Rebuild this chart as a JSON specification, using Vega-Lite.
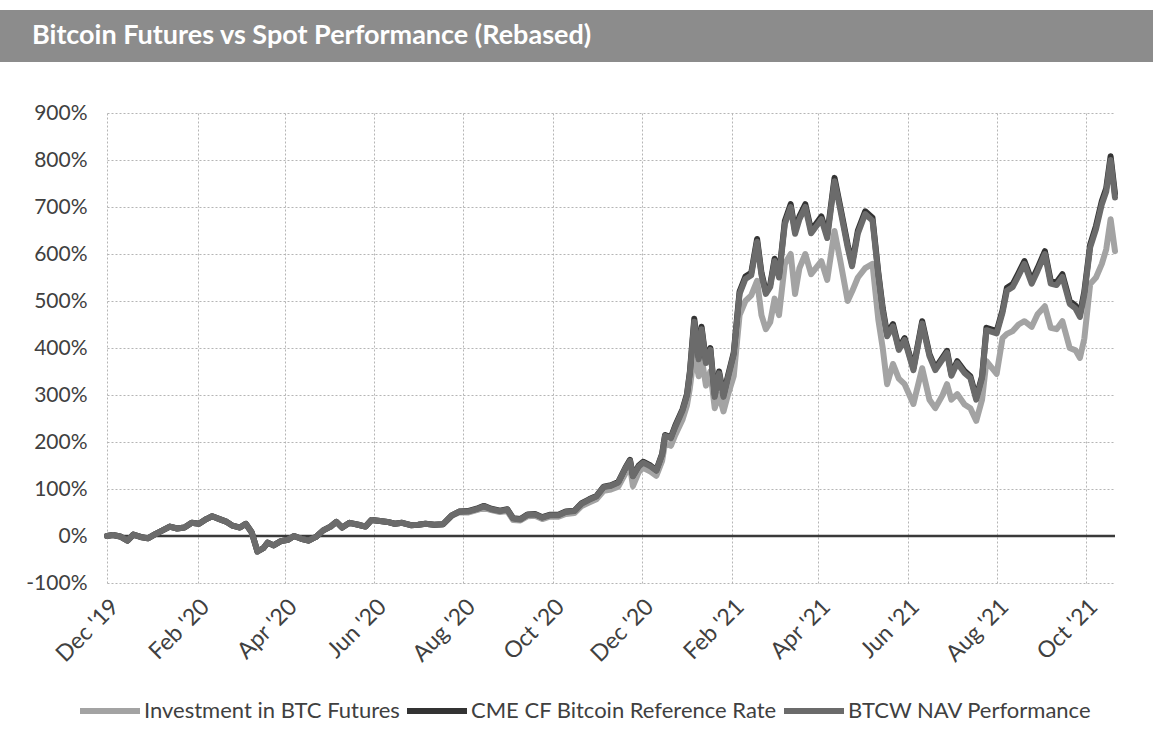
{
 "$schema": "https://vega.github.io/schema/vega-lite/v6.json",
 "padding": {"left": 0, "top": 10, "right": 0, "bottom": 0},
 "background": "white",
 "spacing": 40,
 "config": {"view": {"stroke": null}, "font": "Lato"},
 "vconcat": [
  {
   "width": 1046, "height": 52,
   "view": {"fill": "#8c8c8c", "stroke": null},
   "data": {"values": [{"t": "Bitcoin Futures vs Spot Performance (Rebased)"}]},
   "mark": {"type": "text", "align": "left", "baseline": "middle", "color": "white", "font": "Lato", "fontWeight": "bold", "fontSize": 27, "dx": -75},
   "encoding": {
    "x": {"datum": 0, "type": "quantitative", "scale": {"domain": [0, 1]}, "axis": null},
    "y": {"datum": 0.5, "type": "quantitative", "scale": {"domain": [0, 1]},
          "axis": {"title": null, "labels": false, "ticks": false, "grid": false, "domain": true, "domainColor": "#8c8c8c", "domainWidth": 216, "domainCap": "butt", "translate": 0}},
    "text": {"field": "t"}
   }
  },
  {
   "width": 1008, "height": 470,
   "layer": [
    {
     "data": {"values": [{"zero": 0}]},
     "mark": {"type": "rule", "color": "#3a3a3a", "strokeWidth": 2.5},
     "encoding": {"y": {"field": "zero", "type": "quantitative"}}
    },
    {
     "data": {"values": [
{"date":"2019-12-01","fut":0,"cme":0,"btcw":0},
{"date":"2019-12-05","fut":2,"cme":2,"btcw":2},
{"date":"2019-12-10","fut":-1,"cme":-1,"btcw":-1},
{"date":"2019-12-15","fut":-10,"cme":-10,"btcw":-10},
{"date":"2019-12-19","fut":3,"cme":3,"btcw":3},
{"date":"2019-12-24","fut":-2,"cme":-2,"btcw":-2},
{"date":"2019-12-29","fut":-5,"cme":-5,"btcw":-5},
{"date":"2020-01-03","fut":4,"cme":4,"btcw":4},
{"date":"2020-01-08","fut":12,"cme":12,"btcw":12},
{"date":"2020-01-13","fut":20,"cme":20,"btcw":20},
{"date":"2020-01-18","fut":16,"cme":16,"btcw":16},
{"date":"2020-01-23","fut":18,"cme":18,"btcw":18},
{"date":"2020-01-28","fut":28,"cme":28,"btcw":28},
{"date":"2020-02-02","fut":26,"cme":26,"btcw":26},
{"date":"2020-02-07","fut":36,"cme":36,"btcw":36},
{"date":"2020-02-11","fut":42,"cme":42,"btcw":42},
{"date":"2020-02-16","fut":36,"cme":36,"btcw":36},
{"date":"2020-02-21","fut":30,"cme":30,"btcw":30},
{"date":"2020-02-25","fut":22,"cme":22,"btcw":22},
{"date":"2020-03-01","fut":18,"cme":18,"btcw":18},
{"date":"2020-03-05","fut":26,"cme":26,"btcw":26},
{"date":"2020-03-09","fut":8,"cme":8,"btcw":8},
{"date":"2020-03-13","fut":-33,"cme":-33,"btcw":-33},
{"date":"2020-03-17","fut":-26,"cme":-26,"btcw":-26},
{"date":"2020-03-20","fut":-14,"cme":-14,"btcw":-14},
{"date":"2020-03-24","fut":-20,"cme":-20,"btcw":-20},
{"date":"2020-03-29","fut":-11,"cme":-11,"btcw":-11},
{"date":"2020-04-03","fut":-8,"cme":-8,"btcw":-8},
{"date":"2020-04-07","fut":0,"cme":0,"btcw":0},
{"date":"2020-04-12","fut":-6,"cme":-6,"btcw":-6},
{"date":"2020-04-17","fut":-10,"cme":-10,"btcw":-10},
{"date":"2020-04-22","fut":-2,"cme":-2,"btcw":-2},
{"date":"2020-04-27","fut":12,"cme":12,"btcw":12},
{"date":"2020-05-02","fut":20,"cme":20,"btcw":20},
{"date":"2020-05-06","fut":30,"cme":30,"btcw":30},
{"date":"2020-05-10","fut":18,"cme":18,"btcw":18},
{"date":"2020-05-15","fut":28,"cme":28,"btcw":28},
{"date":"2020-05-21","fut":24,"cme":24,"btcw":24},
{"date":"2020-05-26","fut":20,"cme":20,"btcw":20},
{"date":"2020-05-30","fut":34,"cme":34,"btcw":34},
{"date":"2020-06-05","fut":32,"cme":32,"btcw":32},
{"date":"2020-06-10","fut":30,"cme":30,"btcw":30},
{"date":"2020-06-15","fut":26,"cme":26,"btcw":26},
{"date":"2020-06-20","fut":28,"cme":28,"btcw":28},
{"date":"2020-06-26","fut":23,"cme":23,"btcw":23},
{"date":"2020-07-01","fut":24,"cme":24,"btcw":24},
{"date":"2020-07-06","fut":26,"cme":26,"btcw":26},
{"date":"2020-07-12","fut":24,"cme":24,"btcw":24},
{"date":"2020-07-18","fut":25,"cme":25,"btcw":25},
{"date":"2020-07-24","fut":43,"cme":44,"btcw":44},
{"date":"2020-07-29","fut":50,"cme":52,"btcw":52},
{"date":"2020-08-04","fut":50,"cme":53,"btcw":52},
{"date":"2020-08-10","fut":55,"cme":58,"btcw":57},
{"date":"2020-08-15","fut":60,"cme":64,"btcw":63},
{"date":"2020-08-20","fut":55,"cme":58,"btcw":57},
{"date":"2020-08-26","fut":51,"cme":54,"btcw":53},
{"date":"2020-08-31","fut":53,"cme":57,"btcw":56},
{"date":"2020-09-04","fut":34,"cme":38,"btcw":37},
{"date":"2020-09-09","fut":33,"cme":36,"btcw":35},
{"date":"2020-09-14","fut":42,"cme":46,"btcw":45},
{"date":"2020-09-19","fut":43,"cme":47,"btcw":46},
{"date":"2020-09-24","fut":36,"cme":40,"btcw":39},
{"date":"2020-09-29","fut":41,"cme":45,"btcw":44},
{"date":"2020-10-05","fut":41,"cme":45,"btcw":44},
{"date":"2020-10-10","fut":47,"cme":52,"btcw":51},
{"date":"2020-10-16","fut":49,"cme":54,"btcw":53},
{"date":"2020-10-21","fut":64,"cme":70,"btcw":69},
{"date":"2020-10-26","fut":71,"cme":78,"btcw":77},
{"date":"2020-10-31","fut":78,"cme":85,"btcw":84},
{"date":"2020-11-05","fut":96,"cme":105,"btcw":104},
{"date":"2020-11-10","fut":99,"cme":108,"btcw":107},
{"date":"2020-11-15","fut":105,"cme":115,"btcw":114},
{"date":"2020-11-20","fut":134,"cme":146,"btcw":145},
{"date":"2020-11-23","fut":150,"cme":162,"btcw":160},
{"date":"2020-11-25","fut":106,"cme":128,"btcw":127},
{"date":"2020-11-29","fut":136,"cme":150,"btcw":148},
{"date":"2020-12-02","fut":145,"cme":158,"btcw":156},
{"date":"2020-12-07","fut":137,"cme":150,"btcw":148},
{"date":"2020-12-11","fut":128,"cme":140,"btcw":139},
{"date":"2020-12-15","fut":160,"cme":175,"btcw":173},
{"date":"2020-12-17","fut":198,"cme":215,"btcw":213},
{"date":"2020-12-21","fut":192,"cme":210,"btcw":208},
{"date":"2020-12-24","fut":215,"cme":235,"btcw":232},
{"date":"2020-12-29","fut":248,"cme":270,"btcw":267},
{"date":"2021-01-01","fut":278,"cme":302,"btcw":299},
{"date":"2021-01-03","fut":315,"cme":350,"btcw":346},
{"date":"2021-01-06","fut":390,"cme":462,"btcw":456},
{"date":"2021-01-09","fut":340,"cme":380,"btcw":376},
{"date":"2021-01-11","fut":380,"cme":445,"btcw":440},
{"date":"2021-01-14","fut":320,"cme":372,"btcw":368},
{"date":"2021-01-17","fut":350,"cme":400,"btcw":396},
{"date":"2021-01-20","fut":272,"cme":300,"btcw":296},
{"date":"2021-01-23","fut":300,"cme":350,"btcw":346},
{"date":"2021-01-26","fut":265,"cme":300,"btcw":296},
{"date":"2021-01-29","fut":300,"cme":340,"btcw":336},
{"date":"2021-02-02","fut":340,"cme":390,"btcw":386},
{"date":"2021-02-06","fut":470,"cme":520,"btcw":515},
{"date":"2021-02-10","fut":500,"cme":552,"btcw":547},
{"date":"2021-02-14","fut":512,"cme":560,"btcw":555},
{"date":"2021-02-18","fut":543,"cme":632,"btcw":626},
{"date":"2021-02-21","fut":470,"cme":560,"btcw":555},
{"date":"2021-02-24","fut":440,"cme":520,"btcw":515},
{"date":"2021-02-27","fut":455,"cme":535,"btcw":530},
{"date":"2021-03-02","fut":505,"cme":590,"btcw":585},
{"date":"2021-03-05","fut":470,"cme":555,"btcw":550},
{"date":"2021-03-09","fut":579,"cme":670,"btcw":664},
{"date":"2021-03-13","fut":600,"cme":706,"btcw":700},
{"date":"2021-03-16","fut":515,"cme":649,"btcw":643},
{"date":"2021-03-19","fut":570,"cme":680,"btcw":674},
{"date":"2021-03-23","fut":600,"cme":706,"btcw":700},
{"date":"2021-03-27","fut":557,"cme":650,"btcw":644},
{"date":"2021-04-03","fut":585,"cme":680,"btcw":674},
{"date":"2021-04-07","fut":545,"cme":640,"btcw":634},
{"date":"2021-04-12","fut":649,"cme":762,"btcw":755},
{"date":"2021-04-16","fut":585,"cme":700,"btcw":694},
{"date":"2021-04-21","fut":500,"cme":620,"btcw":614},
{"date":"2021-04-24","fut":520,"cme":579,"btcw":574},
{"date":"2021-04-28","fut":550,"cme":650,"btcw":644},
{"date":"2021-05-03","fut":570,"cme":691,"btcw":685},
{"date":"2021-05-08","fut":579,"cme":677,"btcw":671},
{"date":"2021-05-12","fut":460,"cme":560,"btcw":555},
{"date":"2021-05-15","fut":400,"cme":485,"btcw":480},
{"date":"2021-05-18","fut":323,"cme":430,"btcw":425},
{"date":"2021-05-22","fut":366,"cme":451,"btcw":446},
{"date":"2021-05-26","fut":335,"cme":400,"btcw":396},
{"date":"2021-05-30","fut":323,"cme":421,"btcw":417},
{"date":"2021-06-05","fut":281,"cme":357,"btcw":353},
{"date":"2021-06-11","fut":357,"cme":457,"btcw":452},
{"date":"2021-06-16","fut":290,"cme":387,"btcw":383},
{"date":"2021-06-20","fut":272,"cme":357,"btcw":353},
{"date":"2021-06-25","fut":300,"cme":380,"btcw":376},
{"date":"2021-06-28","fut":323,"cme":394,"btcw":390},
{"date":"2021-07-01","fut":290,"cme":345,"btcw":341},
{"date":"2021-07-05","fut":302,"cme":372,"btcw":368},
{"date":"2021-07-10","fut":280,"cme":351,"btcw":347},
{"date":"2021-07-14","fut":272,"cme":340,"btcw":336},
{"date":"2021-07-18","fut":245,"cme":294,"btcw":290},
{"date":"2021-07-22","fut":290,"cme":340,"btcw":336},
{"date":"2021-07-25","fut":372,"cme":443,"btcw":438},
{"date":"2021-08-01","fut":345,"cme":436,"btcw":431},
{"date":"2021-08-05","fut":421,"cme":480,"btcw":475},
{"date":"2021-08-08","fut":430,"cme":528,"btcw":522},
{"date":"2021-08-12","fut":436,"cme":536,"btcw":530},
{"date":"2021-08-16","fut":450,"cme":560,"btcw":554},
{"date":"2021-08-20","fut":457,"cme":585,"btcw":579},
{"date":"2021-08-25","fut":445,"cme":543,"btcw":537},
{"date":"2021-08-29","fut":472,"cme":570,"btcw":564},
{"date":"2021-09-03","fut":489,"cme":606,"btcw":600},
{"date":"2021-09-07","fut":443,"cme":543,"btcw":537},
{"date":"2021-09-11","fut":440,"cme":540,"btcw":534},
{"date":"2021-09-15","fut":457,"cme":557,"btcw":551},
{"date":"2021-09-20","fut":400,"cme":500,"btcw":494},
{"date":"2021-09-24","fut":395,"cme":490,"btcw":484},
{"date":"2021-09-27","fut":379,"cme":472,"btcw":466},
{"date":"2021-09-30","fut":420,"cme":520,"btcw":514},
{"date":"2021-10-04","fut":536,"cme":620,"btcw":614},
{"date":"2021-10-08","fut":550,"cme":660,"btcw":653},
{"date":"2021-10-12","fut":579,"cme":713,"btcw":706},
{"date":"2021-10-15","fut":610,"cme":740,"btcw":733},
{"date":"2021-10-18","fut":674,"cme":808,"btcw":800},
{"date":"2021-10-21","fut":606,"cme":728,"btcw":720}
     ]},
     "transform": [{"fold": ["fut", "cme", "btcw"], "as": ["series", "value"]}],
     "mark": {"type": "line", "strokeWidth": 6, "strokeJoin": "round", "strokeCap": "round"},
     "encoding": {
      "x": {
       "field": "date", "type": "temporal",
       "scale": {"type": "utc", "domain": [{"year": 2019, "month": 12, "date": 1, "utc": true}, {"year": 2021, "month": 10, "date": 21, "utc": true}]},
       "axis": {
        "title": null,
        "values": [
         {"year": 2019, "month": 12, "date": 1, "utc": true},
         {"year": 2020, "month": 2, "date": 1, "utc": true},
         {"year": 2020, "month": 4, "date": 1, "utc": true},
         {"year": 2020, "month": 6, "date": 1, "utc": true},
         {"year": 2020, "month": 8, "date": 1, "utc": true},
         {"year": 2020, "month": 10, "date": 1, "utc": true},
         {"year": 2020, "month": 12, "date": 1, "utc": true},
         {"year": 2021, "month": 2, "date": 1, "utc": true},
         {"year": 2021, "month": 4, "date": 1, "utc": true},
         {"year": 2021, "month": 6, "date": 1, "utc": true},
         {"year": 2021, "month": 8, "date": 1, "utc": true},
         {"year": 2021, "month": 10, "date": 1, "utc": true}
        ],
        "format": "%b '%y",
        "labelAngle": -45,
        "labelFont": "Lato",
        "labelFontSize": 23,
        "labelColor": "#404040",
        "labelOverlap": false,
        "labelPadding": 12,
        "ticks": false,
        "domain": false,
        "grid": true,
        "gridDash": [2, 2],
        "gridColor": "#b5b5b5",
        "gridWidth": 1
       }
      },
      "y": {
       "field": "value", "type": "quantitative",
       "scale": {"domain": [-100, 900], "nice": false},
       "axis": {
        "title": null,
        "values": [-100, 0, 100, 200, 300, 400, 500, 600, 700, 800, 900],
        "labelExpr": "datum.value + '%'",
        "labelFont": "Lato",
        "labelFontSize": 21,
        "labelColor": "#404040",
        "labelPadding": 20,
        "minExtent": 107,
        "ticks": false,
        "domain": false,
        "grid": true,
        "gridDash": [2, 2],
        "gridColor": "#b5b5b5",
        "gridWidth": 1
       }
      },
      "color": {
       "field": "series", "type": "nominal",
       "scale": {"domain": ["fut", "cme", "btcw"], "range": ["#a3a3a3", "#333333", "#6b6b6b"]},
       "legend": {
        "title": null,
        "orient": "none",
        "legendX": -30,
        "legendY": 668,
        "direction": "horizontal",
        "columns": 3,
        "symbolType": "stroke",
        "symbolSize": 3600,
        "symbolStrokeWidth": 6,
        "labelFont": "Lato",
        "labelFontSize": 22,
        "labelColor": "#404040",
        "labelOffset": 1,
        "labelLimit": 500,
        "columnPadding": -5,
        "labelExpr": "datum.label == 'fut' ? 'Investment in BTC Futures' : datum.label == 'cme' ? 'CME CF Bitcoin Reference Rate' : 'BTCW NAV Performance'"
       }
      }
     }
    }
   ]
  }
 ]
}
